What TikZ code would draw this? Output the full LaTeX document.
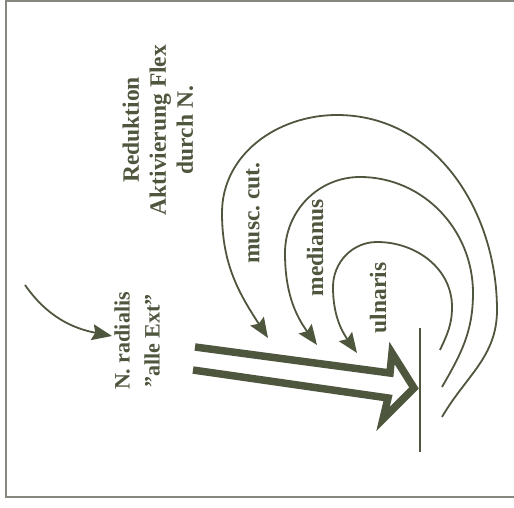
\documentclass[tikz,border=0pt]{standalone}
\usepackage{fontspec}
\setmainfont{Liberation Serif}
\usetikzlibrary{arrows.meta}
\definecolor{ink}{RGB}{78,86,62}
\definecolor{framec}{RGB}{135,135,125}
\begin{document}
\begin{tikzpicture}[x=1pt,y=1pt,
  lbl/.style={text=ink, font=\fontsize{23.5}{27}\selectfont\bfseries\frenchspacing, rotate=90, align=center, inner sep=0pt},
  nerve/.style={draw=ink, line width=1.8pt, -{Stealth[length=20pt,width=16pt,inset=3pt]}},
  bigarrow/.style={draw=ink, line width=7.5pt, line join=miter, miter limit=20},
  bar/.style={draw=ink, line width=1.5pt},
  framelines/.style={draw=framec, line width=2pt}]
\useasboundingbox (0,0) rectangle (514,507);
% frame
\coordinate (f0) at (514,505.5);
\coordinate (f1) at (6,505.5);
\coordinate (f2) at (6,10);
\coordinate (f3) at (514,10);
\draw[framelines] (f0) -- (f1) -- (f2) -- (f3);
% labels
\node[lbl] (red) at (158,377) {Reduktion\\Aktivierung Flex\\durch N.};
\node[lbl, font=\fontsize{22}{30}\selectfont\bfseries\frenchspacing] (rad) at (137,166) {N. radialis\\\symbol{34}alle Ext\symbol{34}};
\node[lbl] (mc) at (253,294) {musc. cut.};
\node[lbl] (med) at (315,259) {medianus};
\node[lbl] (uln) at (378,209) {ulnaris};
% outer arc
\coordinate (o0) at (442,90);
\coordinate (o1) at (497,197);
\coordinate (o2) at (337,392);
\coordinate (o3) at (222,294);
\coordinate (o4) at (268,169);
\draw[nerve] (o0) to[out=60,in=-90] (o1) to[out=90,in=0] (o2) to[out=180,in=90] (o3) to[out=-90,in=123] (o4);
% middle arc
\coordinate (m0) at (442,120);
\coordinate (m1) at (473,214);
\coordinate (m2) at (360,330);
\coordinate (m3) at (285,254);
\coordinate (m4) at (317,162);
\draw[nerve] (m0) to[out=60,in=-90] (m1) to[out=90,in=0] (m2) to[out=180,in=90] (m3) to[out=-90,in=126] (m4);
% inner arc
\coordinate (i0) at (440,157);
\coordinate (i1) at (452,200);
\coordinate (i2) at (377,265);
\coordinate (i3) at (333,220);
\coordinate (i4) at (357,154);
\draw[nerve] (i0) to[out=65,in=-90] (i1) to[out=90,in=0] (i2) to[out=180,in=90] (i3) to[out=-90,in=125] (i4);
% small left arrow
\coordinate (s0) at (25,222);
\coordinate (s1) at (112,171);
\draw[nerve] (s0) to[out=-55,in=169] (s1);
% vertical bar
\coordinate (b0) at (420,179);
\coordinate (b1) at (420,55);
\draw[bar] (b0) -- (b1);
% big double arrow
\coordinate (A) at (195,160);
\coordinate (B) at (390,134);
\coordinate (C) at (392,154);
\coordinate (D) at (414,119);
\coordinate (E) at (383,88);
\coordinate (F) at (388,109);
\coordinate (G) at (193,137);
\draw[bigarrow] (A) -- (B) -- (C) -- (D) -- (E) -- (F) -- (G);
\end{tikzpicture}
\end{document}
